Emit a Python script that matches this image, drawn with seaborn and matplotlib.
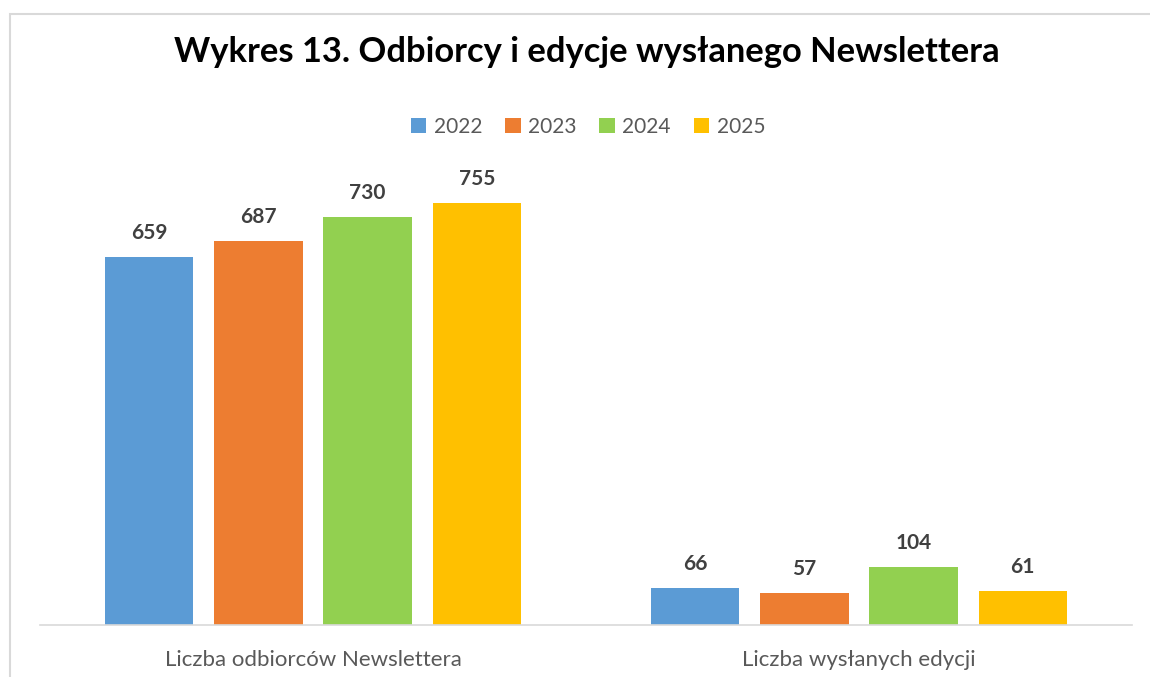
import pandas as pd
import seaborn as sns
import matplotlib.pyplot as plt
from matplotlib.patches import Rectangle, Patch

# ==============================
# DATA
# ==============================
categories = ["Liczba odbiorców Newslettera", "Liczba wysłanych edycji"]
years = ["2022", "2023", "2024", "2025"]
values_2022 = [659, 66]
values_2023 = [687, 57]
values_2024 = [730, 104]
values_2025 = [755, 61]
colors = ["#5B9BD5", "#ED7D31", "#92D050", "#FFC000"]

series = [values_2022, values_2023, values_2024, values_2025]
rows = []
for year, vals in zip(years, series):
    for cat, v in zip(categories, vals):
        rows.append({"kategoria": cat, "rok": year, "wartosc": v})
df = pd.DataFrame(rows)

# ==============================
# PLOT
# ==============================
sns.set_style("white")
plt.rcParams['font.family'] = ['Lato', 'DejaVu Sans']

fig = plt.figure(figsize=(11.5, 6.77), dpi=100)
W, H = 1150, 677
ax = fig.add_axes([40 / W, (H - 625) / H, (1132 - 40) / W, (625 - 178) / H])

sns.barplot(data=df, x="kategoria", y="wartosc", hue="rok",
            palette=colors, saturation=1, width=0.8, gap=0.19,
            linewidth=0, ax=ax, legend=False)

for cont in ax.containers:
    ax.bar_label(cont, padding=10, fontsize=15, fontweight='bold', color='#404040')

ax.set_ylim(0, 800)
ax.set_xlim(-0.5, 1.5)
ax.set_xlabel("")
ax.set_ylabel("")
ax.set_yticks([])
ax.tick_params(axis='x', length=0, pad=18, labelsize=16, labelcolor='#595959')
for s in ["top", "left", "right"]:
    ax.spines[s].set_visible(False)
ax.spines["bottom"].set_color("#D9D9D9")
ax.spines["bottom"].set_linewidth(1.2)

# legend
handles = [Patch(facecolor=c, edgecolor='none') for c in colors]
leg = fig.legend(handles, years, loc='center', bbox_to_anchor=(588 / W, 1 - 127 / H),
                 ncol=4, frameon=False, fontsize=15, handlelength=0.75,
                 handleheight=0.75, handletextpad=0.35, columnspacing=1.1)
for t in leg.get_texts():
    t.set_color('#595959')

fig.text(587 / W, 1 - 52 / H, "Wykres 13. Odbiorcy i edycje wysłanego Newslettera",
         ha='center', va='center', fontsize=24.8, fontweight='bold', color='black')

# chart frame
fig.patches.append(Rectangle((10 / W, -0.1), 1.2, 1 - 14 / H + 0.1,
                             transform=fig.transFigure, fill=False,
                             edgecolor='#D9D9D9', linewidth=1.5))

fig.savefig("out.png", dpi=100, facecolor='white')
